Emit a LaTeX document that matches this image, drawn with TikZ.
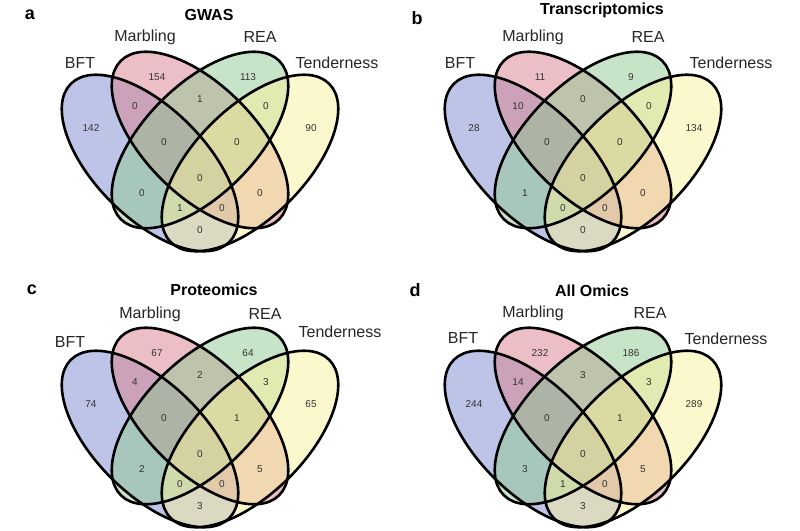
\documentclass[tikz,border=0pt]{standalone}
\usepackage{fontspec}
\setmainfont{Liberation Sans}
\usepackage{tikz}
\usepackage{xcolor}

\definecolor{bftblue}{RGB}{125,135,209}
\definecolor{marbred}{RGB}{218,128,142}
\definecolor{reagreen}{RGB}{145,201,145}
\definecolor{tendyellow}{RGB}{249,241,155}

\tikzset{
  setfill/.style={fill=#1, fill opacity=0.5},
  setline/.style={draw=black, line width=2.6pt},
  setlabel/.style={font=\fontsize{16}{18}\selectfont, text=black!85},
  num/.style={font=\fontsize{10}{12}\selectfont, text=black!80},
  paneltitle/.style={font=\bfseries\fontsize{16}{18}\selectfont},
  panelletter/.style={font=\bfseries\fontsize{18}{20}\selectfont},
}

% four tilted ellipses + the centres of the 15 regions
\newcommand{\vennellipses}{%
  \fill[setfill=bftblue, rotate around={-45:(150,163)}] (150,163) ellipse [x radius=112pt, y radius=55pt];
  \fill[setfill=marbred, rotate around={-45:(200,140)}] (200,140) ellipse [x radius=112pt, y radius=55pt];
  \fill[setfill=reagreen, rotate around={45:(200,140)}] (200,140) ellipse [x radius=112pt, y radius=55pt];
  \fill[setfill=tendyellow, rotate around={45:(250,163)}] (250,163) ellipse [x radius=112pt, y radius=55pt];
  \draw[setline, rotate around={-45:(150,163)}] (150,163) ellipse [x radius=112pt, y radius=55pt];
  \draw[setline, rotate around={-45:(200,140)}] (200,140) ellipse [x radius=112pt, y radius=55pt];
  \draw[setline, rotate around={45:(200,140)}] (200,140) ellipse [x radius=112pt, y radius=55pt];
  \draw[setline, rotate around={45:(250,163)}] (250,163) ellipse [x radius=112pt, y radius=55pt];
  \foreach \x/\y [count=\i] in {91/128, 157/77, 248/77, 311/128, 135/106, 200/99, 266/106,
      164/142, 237/142, 200/178, 142/193, 260/193, 180/208, 222/208, 200/230}
    {\coordinate (reg\i) at (\x,\y);}
}

\begin{document}
\begin{tikzpicture}[x=1pt, y=-1pt]
\useasboundingbox (0,0) rectangle (800,530);

% a: GWAS
\begin{scope}
  \vennellipses
  \node[panelletter] (lettera) at (30,15) {a};
  \node[paneltitle] (titlea) at (209,15) {GWAS};
  \node[setlabel] (bfta) at (80,63) {BFT};
  \node[setlabel] (marba) at (145,37) {Marbling};
  \node[setlabel] (reaa) at (260,37) {REA};
  \node[setlabel] (tenda) at (337,63) {Tenderness};
  \foreach \v [count=\i] in {142,154,113,90,0,1,0,0,0,0,0,0,1,0,0}
    {\node[num] (a\i) at (reg\i) {\v};}
\end{scope}

% b: Transcriptomics
\begin{scope}[shift={(383,0)}]
  \vennellipses
  \node[panelletter] (letterb) at (34,18) {b};
  \node[paneltitle] (titleb) at (219,10) {Transcriptomics};
  \node[setlabel] (bftb) at (77,63) {BFT};
  \node[setlabel] (marbb) at (150,37) {Marbling};
  \node[setlabel] (reab) at (265,37) {REA};
  \node[setlabel] (tendb) at (348,63) {Tenderness};
  \foreach \v [count=\i] in {28,11,9,134,10,0,0,0,0,0,1,0,0,0,0}
    {\node[num] (b\i) at (reg\i) {\v};}
\end{scope}

% c: Proteomics
\begin{scope}[shift={(0,276)}]
  \vennellipses
  \node[panelletter] (letterc) at (32,14) {c};
  \node[paneltitle] (titlec) at (214,14) {Proteomics};
  \node[setlabel] (bftc) at (70,66) {BFT};
  \node[setlabel] (marbc) at (150,38) {Marbling};
  \node[setlabel] (reac) at (265,38) {REA};
  \node[setlabel] (tendc) at (340,56) {Tenderness};
  \foreach \v [count=\i] in {74,67,64,65,4,2,3,0,1,0,2,5,0,0,3}
    {\node[num] (c\i) at (reg\i) {\v};}
\end{scope}

% d: All Omics
\begin{scope}[shift={(383,276)}]
  \vennellipses
  \node[panelletter] (letterd) at (32,14) {d};
  \node[paneltitle] (titled) at (209,15) {All Omics};
  \node[setlabel] (bftd) at (80,62) {BFT};
  \node[setlabel] (marbd) at (150,37) {Marbling};
  \node[setlabel] (read) at (267,37) {REA};
  \node[setlabel] (tendd) at (343,63) {Tenderness};
  \foreach \v [count=\i] in {244,232,186,289,14,3,3,0,1,0,3,5,1,0,3}
    {\node[num] (d\i) at (reg\i) {\v};}
\end{scope}

\end{tikzpicture}
\end{document}
